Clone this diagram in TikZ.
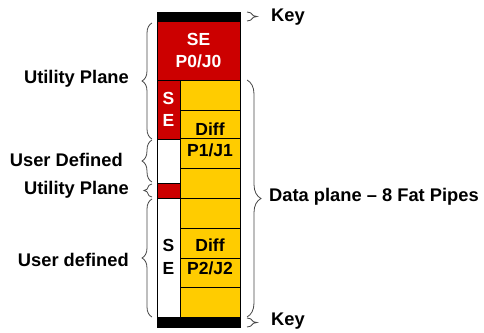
\documentclass[tikz,border=0pt]{standalone}
\usepackage{fontspec}
\setmainfont{Liberation Sans}
\usetikzlibrary{decorations.pathreplacing}
\definecolor{sered}{RGB}{204,0,0}
\definecolor{pipeyellow}{RGB}{255,204,0}
\definecolor{bracegray}{RGB}{70,70,70}
\tikzset{
  redcell/.style={fill=sered,draw=black,line width=0.8pt},
  yellowcell/.style={fill=pipeyellow,draw=black,line width=0.8pt},
  whitecell/.style={fill=white,draw=black,line width=0.8pt},
  keybar/.style={fill=black,draw=black},
  lbl/.style={font=\fontsize{18.3}{20}\selectfont\bfseries,text=black,inner sep=0pt},
  inlbl/.style={font=\fontsize{17.5}{20}\selectfont\bfseries,text=black,inner sep=0pt},
  wlbl/.style={font=\fontsize{17.5}{20}\selectfont\bfseries,text=white,inner sep=0pt},
  brc/.style={draw=bracegray,line width=0.8pt,decorate,decoration={brace,amplitude=#1}},
  brc/.default=10pt
}
\begin{document}
\begin{tikzpicture}[x=1pt,y=-1pt]
\useasboundingbox (0,0) rectangle (484,332);
% key bars
\draw[keybar] (157,12) rectangle (240,21);
\draw[keybar] (157,317) rectangle (240,327);
% SE P0/J0
\draw[redcell] (157,21) rectangle (240,80);
% left column
\draw[redcell] (157,80) rectangle (180,139);
\draw[whitecell] (157,139) rectangle (180,183);
\draw[redcell] (157,183) rectangle (180,198);
\draw[whitecell] (157,198) rectangle (180,317);
% yellow pipes
\foreach \a/\b in {80/110,110/138,138/168,168/198,198/228,228/258,258/287,287/317}
  \draw[yellowcell] (180,\a) rectangle (240,\b);
% texts inside
\node[wlbl] (se0) at (198.5,39) {SE};
\node[wlbl] (p0) at (198.5,61) {P0/J0};
\node[wlbl] (s1) at (168.5,98) {S};
\node[wlbl] (e1) at (168.5,120) {E};
\node[inlbl] (d1) at (210,129) {Diff};
\node[inlbl] (p1) at (210,150) {P1/J1};
\node[inlbl] (s2) at (168.5,245) {S};
\node[inlbl] (e2) at (168.5,268) {E};
\node[inlbl] (d2) at (210,245) {Diff};
\node[inlbl] (p2) at (210,268) {P2/J2};
% left braces
\draw[brc] (152,139) -- (152,23);
\draw[brc] (152,182) -- (152,140);
\draw[brc=8pt] (152,197) -- (152,184);
\draw[brc] (152,317) -- (152,199);
\node[lbl,anchor=east] (up1) at (129,79) {Utility Plane};
\node[lbl,anchor=east] (ud1) at (123,160) {User Defined};
\node[lbl,anchor=east] (up2) at (129,190) {Utility Plane};
\node[lbl,anchor=east] (ud2) at (129,260) {User defined};
% right braces
\draw[brc=10pt] (247,12) -- (247,21);
\draw[brc=14pt] (247,80) -- (247,317);
\draw[brc=10pt] (247,318) -- (247,327);
\node[lbl,anchor=west] (k1) at (271,17) {Key};
\node[lbl,anchor=west] (dp) at (269,197) {Data plane – 8 Fat Pipes};
\node[lbl,anchor=west] (k2) at (271,321) {Key};
\end{tikzpicture}
\end{document}
